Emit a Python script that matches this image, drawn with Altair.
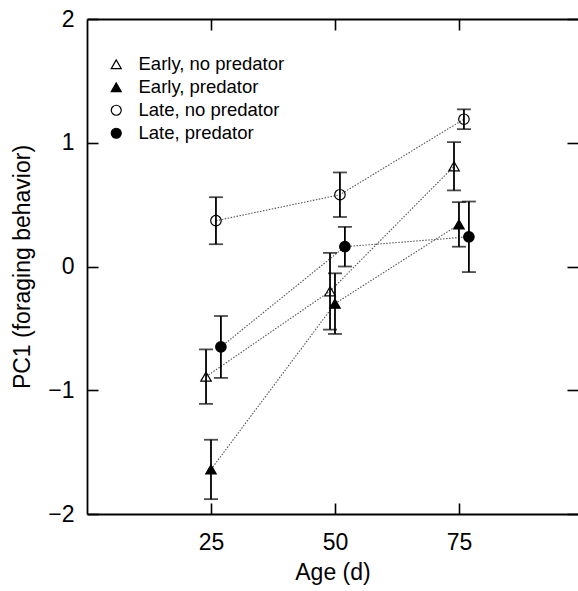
import altair as alt
import pandas as pd

groups = ["Early, no predator", "Early, predator", "Late, no predator", "Late, predator"]
shapes = ["triangle-up", "triangle-up", "circle", "circle"]
fills = ["transparent", "black", "transparent", "black"]
strokes = ["black", "black", "black", "black"]

early_no_x = [24, 49, 74]
early_no_y = [-0.89, -0.20, 0.81]
early_no_se = [0.22, 0.31, 0.195]

early_pred_x = [25, 50, 75]
early_pred_y = [-1.64, -0.30, 0.34]
early_pred_se = [0.24, 0.245, 0.18]

late_no_x = [26, 51, 76]
late_no_y = [0.37, 0.58, 1.19]
late_no_se = [0.19, 0.18, 0.08]

late_pred_x = [27, 52, 77]
late_pred_y = [-0.65, 0.16, 0.24]
late_pred_se = [0.25, 0.16, 0.285]

x_ticks = [25, 50, 75]
y_ticks = [-2, -1, 0, 1, 2]

series = [
    (groups[0], early_no_x, early_no_y, early_no_se),
    (groups[1], early_pred_x, early_pred_y, early_pred_se),
    (groups[2], late_no_x, late_no_y, late_no_se),
    (groups[3], late_pred_x, late_pred_y, late_pred_se),
]
rows = []
for g, xs_, ys_, ses in series:
    for xv, yv, sv in zip(xs_, ys_, ses):
        rows.append({"group": g, "age": xv, "pc1": yv, "se": sv})
df = pd.DataFrame(rows)

W, H = 491, 495
FONT = "Liberation Sans"

xs = alt.Scale(domain=[0, 99], nice=False, zero=False)
ys = alt.Scale(domain=[-2, 2], nice=False, zero=False)

base = alt.Chart(df).transform_calculate(
    lo="datum.pc1 - datum.se", hi="datum.pc1 + datum.se"
)

ax_main_x = alt.Axis(values=x_ticks, ticks=False, domain=True, labelPadding=17,
                     title="Age (d)", titlePadding=7, grid=False)
ax_main_y = alt.Axis(values=y_ticks, ticks=False, domain=True, labelPadding=13,
                     title="PC1 (foraging behavior)", titleX=-65, titleBaseline="middle",
                     grid=False)
tick_only = dict(labels=False, title=None, grid=False)

lines = base.mark_line(strokeDash=[1.5, 1.5], color="#555555", strokeWidth=1.1).encode(
    x=alt.X("age:Q", scale=xs, axis=ax_main_x),
    y=alt.Y("pc1:Q", scale=ys, axis=ax_main_y),
    detail="group:N",
    order="age:Q",
)

bars = base.mark_rule(color="black", strokeWidth=1.8).encode(
    x=alt.X("age:Q", scale=xs, axis=alt.Axis(orient="top", offset=-H, values=x_ticks,
                                               domain=False, ticks=True, **tick_only)),
    y=alt.Y("lo:Q", scale=ys, axis=alt.Axis(orient="right", offset=-W, values=y_ticks,
                                              domain=False, ticks=True, **tick_only)),
    y2="hi:Q",
)

cap_lo = base.mark_tick(orient="horizontal", size=14, thickness=1.8, color="black").encode(
    x=alt.X("age:Q", scale=xs, axis=alt.Axis(orient="bottom", offset=-H, values=x_ticks,
                                               domain=True, ticks=True, **tick_only)),
    y=alt.Y("lo:Q", scale=ys, axis=alt.Axis(orient="left", offset=-W, values=y_ticks,
                                              domain=False, ticks=True, **tick_only)),
)

cap_hi = base.mark_tick(orient="horizontal", size=14, thickness=1.8, color="black").encode(
    x=alt.X("age:Q", scale=xs, axis=None),
    y=alt.Y("hi:Q", scale=ys, axis=None),
)

leg = dict(orient="none", legendX=20, legendY=36, title=None, labelFontSize=18.5,
           labelFont=FONT, labelColor="black", symbolSize=100,
           symbolStrokeWidth=1.2, labelOffset=13, rowPadding=4, padding=0)

points = base.mark_point(filled=True, strokeWidth=1.2, size=110, opacity=1).encode(
    x=alt.X("age:Q", scale=xs, axis=None),
    y=alt.Y("pc1:Q", scale=ys, axis=None),
    shape=alt.Shape("group:N", scale=alt.Scale(domain=groups, range=shapes),
                    legend=alt.Legend(**leg)),
    fill=alt.Fill("group:N", scale=alt.Scale(domain=groups, range=fills),
                  legend=alt.Legend(**leg)),
    stroke=alt.Stroke("group:N", scale=alt.Scale(domain=groups, range=strokes),
                      legend=alt.Legend(**leg)),
)

chart = alt.layer(lines, bars, cap_lo, cap_hi, points).resolve_axis(
    x="independent", y="independent"
).properties(
    width=W, height=H,
    autosize=alt.AutoSizeParams(type="none"),
    padding={"left": 87, "top": 19, "right": 0, "bottom": 77},
    background="white",
).configure_view(stroke=None).configure_axis(
    labelFont=FONT, titleFont=FONT, labelFontSize=23, titleFontSize=23,
    labelColor="black", titleColor="black", titleFontWeight="normal",
    domainColor="black", tickColor="black", domainWidth=1.8, tickWidth=1.6,
    tickSize=11,
)

chart.save("out.html", embed_options={"renderer": "svg", "actions": False})
